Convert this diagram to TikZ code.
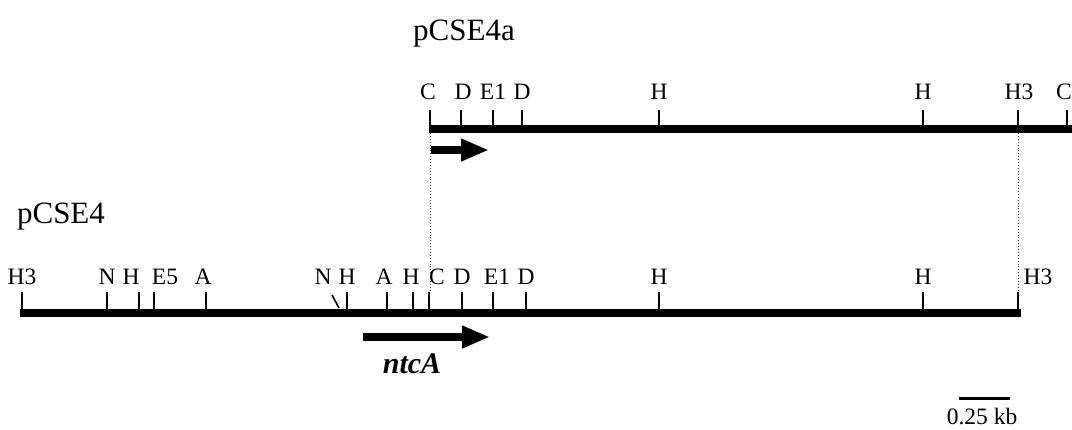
\documentclass[tikz,border=0pt]{standalone}
\usepackage{fontspec}
\setmainfont{Liberation Serif}
\usetikzlibrary{arrows.meta}

\begin{document}
\begin{tikzpicture}[x=1pt,y=-1pt,
  dna/.style={line width=7.5pt, line cap=butt},
  site/.style={line width=1.6pt},
  cut/.style={font=\fontsize{23.5}{28}\selectfont, anchor=base, inner sep=0pt},
  plasmid/.style={font=\fontsize{31}{36}\selectfont, anchor=base, inner sep=0pt},
  guide/.style={line width=0.9pt, dotted, black!75},
  orf/.style={line width=8.5pt, -{Triangle[length=28pt,width=21pt]}}]
\useasboundingbox (0,0) rectangle (1072,429);

% plasmid names
\node[plasmid] (nameA) at (464,40) {pCSE4a};
\node[plasmid] (nameB) at (61,223) {pCSE4};

% insert of pCSE4a
\coordinate (aL) at (429,129);
\coordinate (aR) at (1072,129);
\draw[dna] (aL) -- (aR);
\foreach \x in {430,461,493,522,659,923,1018,1067}
  \draw[site] (\x,110) -- (\x,129);
\foreach \x/\t/\n in {428/C/a1,463/D/a2,493/E1/a3,522/D/a4,659/H/a5,923/H/a6,1019/H3/a7,1064/C/a8}
  \node[cut] (\n) at (\x,99) {\t};

% insert of pCSE4
\coordinate (bL) at (20,313);
\coordinate (bR) at (1021,313);
\draw[dna] (bL) -- (bR);
\foreach \x in {22,107,139,154,206,347,387,413,429,462,493,526,659,923,1018}
  \draw[site] (\x,292) -- (\x,313);
\draw[site] (332,295) -- (339,308);
\foreach \x/\t/\n in {22/H3/b1,107/N/b2,131/H/b3,165/E5/b4,203/A/b5,323/N/b6,347/H/b7,384/A/b8,411/H/b9,437/C/b10,462/D/b11,497/E1/b12,526/D/b13,659/H/b14,923/H/b15,1038/H3/b16}
  \node[cut] (\n) at (\x,284) {\t};

% alignment of the two inserts
\coordinate (gC1) at (430,133);
\coordinate (gC2) at (430,292);
\coordinate (gH1) at (1018,133);
\coordinate (gH2) at (1018,292);
\draw[guide] (gC1) -- (gC2);
\draw[guide] (gH1) -- (gH2);

% ntcA reading frames
\coordinate (oA1) at (431,150);
\coordinate (oA2) at (489,150);
\draw[orf] (oA1) -- (oA2);
\coordinate (oB1) at (363,337);
\coordinate (oB2) at (490,337);
\draw[orf] (oB1) -- (oB2);
\node[font=\fontsize{30}{35}\selectfont\bfseries\itshape, anchor=base, inner sep=0pt] (gene) at (412,373) {ntcA};

% scale bar
\coordinate (s1) at (959,398);
\coordinate (s2) at (1010,398);
\draw[line width=3pt] (s1) -- (s2);
\node[cut] (scale) at (982,424) {0.25 kb};
\end{tikzpicture}
\end{document}
